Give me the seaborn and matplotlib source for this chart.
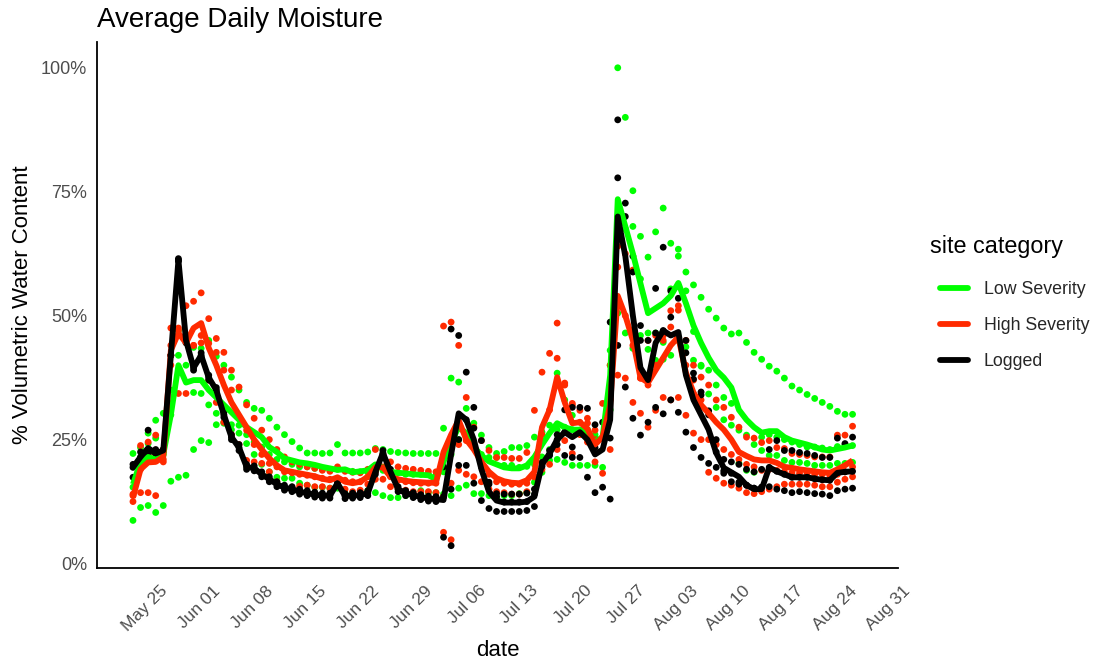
import numpy as np
import pandas as pd
import matplotlib
matplotlib.use("Agg")
import matplotlib.pyplot as plt
import matplotlib.dates as mdates
from matplotlib.lines import Line2D
from matplotlib.transforms import ScaledTranslation
import seaborn as sns

# ---------------- data ----------------
start_date = "2019-05-22"
n_days = 96
categories = ["Low Severity", "High Severity", "Logged"]
colors = ["#00ff00", "#ff2a00", "#000000"]
tick_dates = ["2019-05-25", "2019-06-01", "2019-06-08", "2019-06-15", "2019-06-22",
              "2019-06-29", "2019-07-06", "2019-07-13", "2019-07-20", "2019-07-27",
              "2019-08-03", "2019-08-10", "2019-08-17", "2019-08-24", "2019-08-31"]
y_ticks = [0, 25, 50, 75, 100]
y_tick_labels = ["0%", "25%", "50%", "75%", "100%"]

# daily mean lines
low_line = [16, 20.5, 21.5, 21, 22, 30, 40, 36.5, 37, 37,
            35, 33.5, 32, 30.5, 29, 27.5, 26.5, 25.5, 23.5, 22.5,
            21.2, 20.8, 20.4, 20.2, 19.9, 19.5, 19.2, 18.9, 19, 18.4,
            18.6, 18.8, 20, 19.4, 18.5, 18.3, 18.2, 18, 17.9, 17.8,
            17, 20.5, 24.5, 27.5, 26.3, 23.5, 21.8, 20.6, 20, 19.4,
            19.2, 19.2, 19.8, 21.5, 24, 26.3, 28.3, 27.5, 27, 27,
            26.5, 24.5, 25.5, 38, 73.5, 68, 62.5, 56.5, 50.5, 51.5,
            52.5, 54, 56.6, 52.5, 48, 44.5, 41.5, 39, 37.5, 35.5,
            31, 29, 27.5, 26.4, 26.7, 26.7, 25.5, 24.8, 24.4, 24,
            23.5, 23, 22.8, 23.1, 23.4, 23.8]
high_line = [13.3, 19, 20.4, 20.5, 21.5, 43, 46.5, 44.5, 47.5, 48.5,
             43.5, 40, 36, 32.5, 30, 27.5, 25, 23, 21.2, 19.8,
             18.8, 18.5, 18.2, 17.9, 17.6, 17.1, 16.8, 17.4, 16.5, 16.2,
             16.5, 17.5, 19.4, 19.4, 17.5, 17, 16.7, 16.5, 16.4, 16.3,
             16.3, 22.5, 26, 28.9, 25, 23, 20.5, 18.5, 17.2, 16.6,
             16.3, 16.2, 16.8, 18.5, 27.5, 31, 37.6, 32.5, 28.3, 28.5,
             27.2, 24, 25.5, 32, 54, 50, 45, 37.5, 36.5, 39,
             41.5, 44, 45.7, 38.5, 34.5, 32, 30.3, 28.5, 27, 25,
             22.5, 21.7, 21, 20.8, 20.8, 20.3, 19.5, 19.3, 19, 18.8,
             18.6, 18.4, 18.3, 19, 19.8, 20.8]
logged_line = [19.4, 21.5, 23.3, 22.2, 22.8, 42, 61.2, 45, 39.5, 42,
               37.5, 35, 30, 25.5, 23.4, 19.5, 19.2, 18, 17, 16,
               15.3, 15, 14.5, 14.2, 13.9, 13.7, 13.7, 16.2, 13.6, 13.7,
               13.8, 14.2, 18.5, 22.3, 18.5, 15, 14.2, 13.8, 13.4, 13.1,
               13, 12.8, 22, 30.3, 29, 25, 19, 14.5, 12.7, 12.3,
               12.3, 12.3, 12.5, 13.5, 20, 22.2, 25, 26.5, 25.5, 26.5,
               25, 22, 23, 29, 70, 62, 50, 39.5, 37, 44.5,
               47, 46, 46.7, 38, 33, 30, 27, 22.3, 19.3, 18.4,
               17.5, 15.8, 15, 15, 19.4, 18.6, 18, 17.4, 17.4, 17.4,
               17.1, 16.9, 16.8, 18.3, 18.5, 18.6]

# individual site readings (points)
low_s1 = [22.2, 23.4, 26.3, 28.9, 30.3, 35, 47, 45, 43.6, 43.4,
          45, 41.8, 40, 37.6, 35, 32.5, 31.3, 30.9, 29.3, 27.5,
          26, 24.6, 23.3, 22.3, 22.3, 22.2, 22.3, 24, 22.3, 22.3,
          22.3, 22.5, 23.2, 23, 22.6, 22.4, 22.3, 22.2, 22.2, 22.2,
          22.2, 27.3, 37.4, 36.6, 31.3, 28.3, 25.9, 23.4, 22.2, 22.6,
          23.4, 23.4, 23.8, 25.5, 26.5, 27.9, 38.4, 33, 29.9, 26.9,
          27, 26, 25.3, 43, 100, 90, 75.2, 66, 61.8, 66.9,
          71.7, 64.6, 63.4, 58.8, 56.2, 53.7, 51.3, 49.5, 47.5, 46.3,
          46.5, 44.6, 42.6, 41.2, 39.8, 38.8, 37.4, 35.8, 35, 34.1,
          33.3, 32.5, 31.7, 30.7, 30.1, 30.1]
low_s2 = [15.4, 20, 24.2, 25.3, 22, 30, 42, 40, 34.5, 34.3,
          32, 30.3, 28.5, 28, 27.9, 26, 24.5, 23.5, 22, 21,
          20.5, 20, 19.5, 19.5, 19.2, 19, 18.8, 19, 18.8, 18.6,
          18.5, 18.5, 19, 18.8, 18.5, 18.3, 18, 18, 18, 18,
          17.8, 18.5, 22, 25, 26, 23.5, 22, 21.4, 21.4, 19.8,
          19.8, 19.4, 19.6, 20, 21.5, 23, 27, 27.5, 27, 26.9,
          26.5, 25.5, 25.3, 40, 70, 46.5, 43.4, 57.4, 46.5, 46.5,
          44.6, 42, 45, 43.7, 41, 40, 39, 36, 33.5, 32.3,
          26.9, 25.9, 24, 22.8, 21.8, 21.8, 20.8, 20.4, 20.4, 20.2,
          19.8, 19.8, 19.8, 20.2, 20.2, 20.4]
low_s3 = [8.7, 11.3, 11.7, 10.3, 11.7, 16.6, 17.4, 17.8, 23, 24.8,
          24.4, 28, 28.3, 27, 26.3, 24.2, 22, 20, 18.5, 17.4,
          17.2, 17.2, 16.2, 15.8, 15.4, 15.4, 15.2, 15.2, 14.1, 14.1,
          13.7, 14.7, 14.3, 13.7, 13.3, 13.3, 13.7, 13.7, 14.7, 14.3,
          14.3, 14, 13.7, 15.2, 15.8, 14.1, 14.1, 13.7, 13.3, 13.7,
          13.7, 14.1, 14.3, 16.4, 18.4, 20.8, 21, 20.4, 19.8, 19.8,
          19.8, 19.8, 19.4, 31, 50.5, 67.5, 68, 46, 43.2, 41,
          41.2, 55.4, 62, 55, 46.8, 39.8, 34.2, 31.5, 29, 27.9,
          20.2, 18.8, 18.4, 25.5, 26, 25.5, 25, 24.5, 24, 23.5,
          23.5, 23.3, 23, 23.6, 24, 23.8]
high_s1 = [14, 23.8, 24.5, 25.9, 23, 47.5, 47.5, 52, 52.9, 54.6,
           49.4, 45.4, 42.6, 39, 35.6, 32, 29.3, 26.9, 25, 23,
           21.5, 20.5, 20, 19.5, 19.2, 18.8, 18.6, 19.5, 18.6, 18.4,
           18.3, 19, 23, 22, 20.5, 19.5, 19.2, 19, 18.8, 18.6,
           18.5, 47.9, 48.7, 44, 33.5, 27.5, 24.8, 22.8, 21.4, 21.4,
           21.2, 21.2, 22.4, 30.9, 38.6, 42.4, 48.5, 36.4, 32.3, 30.9,
           29.3, 26.9, 32.3, 40, 59.8, 50, 59.2, 37.4, 36, 40,
           45, 47.7, 51.1, 45, 40, 37.6, 36, 33, 31.5, 29.5,
           27.5, 25.5, 25.3, 24.4, 24.8, 23.4, 23.2, 22.2, 22, 21.8,
           21.5, 21.5, 21.5, 25.9, 25.9, 27.7]
high_s2 = [13.7, 14.3, 14.3, 13.7, 21, 44, 34.3, 34.3, 44, 46,
           44.4, 42.6, 39, 35, 29.3, 26.9, 24, 22, 20.2, 19.5,
           18.5, 18.3, 18, 17.8, 17.5, 17.2, 17, 17, 16.8, 16.5,
           16.5, 17.5, 18.5, 19.5, 17.5, 16.8, 16.5, 16.3, 16.2, 16.2,
           16.2, 6.3, 4.8, 18.8, 24.8, 24, 20.8, 18, 16.5, 16.2,
           16, 16, 16.2, 17.5, 26, 31, 41.4, 36, 31.9, 28.5,
           28.3, 25, 25.5, 33, 38, 37.4, 32.5, 37.4, 27.5, 30.9,
           33.5, 33, 33.5, 29.9, 26.3, 25, 25, 24, 23, 22,
           21, 20, 19.5, 18.8, 19, 18.8, 18.5, 18.3, 18.2, 18.2,
           18, 18, 17.8, 18, 18.5, 19.5]
high_s3 = [12.5, 19, 22, 22, 20.5, 40, 47, 45, 44, 44.5,
           37, 32.5, 28.5, 26, 24, 20.8, 20.5, 20.2, 18.5, 16.5,
           15.4, 15.4, 15.6, 15.8, 15.5, 15.5, 15.2, 16, 15, 14.5,
           14.8, 16, 17, 17, 15.5, 15, 14.8, 14.5, 14.5, 14.5,
           14.3, 13.5, 16.2, 24, 18, 17.5, 16.5, 15, 14.5, 14.3,
           14, 14, 14.5, 17.5, 19, 20, 23, 24.8, 22.2, 26,
           24.5, 20.5, 18.2, 23, 64, 62.5, 44, 30.3, 45, 46,
           46, 51, 52, 40, 37, 33, 18.4, 17.2, 16.2, 15.8,
           15.2, 14.3, 14.1, 14.5, 15, 15.5, 16, 16, 16, 16,
           15.8, 15.5, 15.5, 16.4, 17, 17.5]
logged_s1 = [20, 22.5, 26.9, 23, 23, 42, 61.5, 45.5, 40, 42.5,
             38, 35.5, 30.5, 26, 24, 20, 19.7, 18.5, 17.5, 16.5,
             15.8, 15.5, 15, 14.7, 14.4, 14.2, 14.2, 16.7, 14.1, 14.2,
             14.3, 14.7, 19, 22.8, 19, 15.5, 14.7, 14.3, 13.9, 13.6,
             13.5, 13.5, 47.3, 46, 38.6, 31.5, 19.5, 16, 14.1, 14,
             14, 14, 14.2, 15, 20.4, 22.8, 26, 31, 31.5, 31.5,
             31.3, 28, 28.5, 48.7, 89.5, 72.7, 58.8, 48, 45, 55.5,
             63.8, 49.7, 53.5, 45, 38.4, 34, 30, 25, 21, 20.5,
             20, 19, 18.5, 19, 23, 24.8, 22.8, 22.8, 22.4, 22.2,
             21.8, 21.4, 21.4, 25.3, 24.2, 25.5]
logged_s2 = [19.4, 21.5, 22, 22.2, 22.8, 42, 61.2, 45, 39.5, 42,
             37.5, 35, 30, 25.5, 23.4, 19.5, 19.2, 18, 17, 16,
             15.3, 15, 14.5, 14.2, 13.9, 13.7, 13.7, 16.2, 13.6, 13.7,
             13.8, 14.2, 18.5, 22.3, 18.5, 15, 14.2, 13.8, 13.4, 13.1,
             13, 19.5, 15, 25, 29, 27.3, 24.8, 16.4, 13.5, 12.4,
             12.4, 12.4, 12.5, 14, 19.6, 21.8, 25, 26.5, 23.5, 26.6,
             26.3, 23.4, 25.2, 25.3, 77.8, 70, 62, 45, 37.5, 46.5,
             47, 55, 56, 42.5, 37.2, 34.6, 30.8, 22.5, 18.7, 18.2,
             16.4, 15.8, 15.2, 15.4, 19.4, 18.6, 18, 17.4, 17.4, 17.4,
             17.1, 16.9, 16.8, 18.3, 18.5, 18.6]
logged_s3 = [17.4, 20.5, 21, 21.4, 22.6, 42, 61, 44.5, 39, 41.5,
             37, 34.5, 29.5, 25, 22.8, 19, 18.7, 17.5, 16.5, 15.5,
             14.8, 14.5, 14, 13.7, 13.4, 13.2, 13.2, 15.7, 13.1, 13.2,
             13.3, 13.7, 18, 21.8, 18, 14.5, 13.7, 13.3, 12.9, 12.6,
             12.5, 5.3, 3.6, 19.8, 19.8, 16.2, 12.7, 11.1, 10.5, 10.5,
             10.5, 10.5, 10.7, 11.5, 20, 22, 24, 21.8, 21.4, 21.4,
             17.4, 14.3, 15.4, 13, 44, 35.6, 29.3, 25.9, 28.5, 31.5,
             30.2, 33, 30.5, 26.5, 23.4, 21.4, 20.2, 19.4, 18.2, 16.5,
             16, 15.8, 15.2, 15.4, 15.5, 15, 14.7, 14.3, 14.5, 14.3,
             14.1, 14, 13.7, 14.7, 15, 15.2]

# ---------------- frames ----------------
dates = pd.date_range(start_date, periods=n_days, freq="D")
line_map = {"Low Severity": low_line, "High Severity": high_line, "Logged": logged_line}
site_map = {"Low Severity": [low_s1, low_s2, low_s3],
            "High Severity": [high_s1, high_s2, high_s3],
            "Logged": [logged_s1, logged_s2, logged_s3]}

lines_df = pd.concat([pd.DataFrame({"date": dates, "moisture": line_map[c], "category": c})
                      for c in categories], ignore_index=True)
pts_df = pd.concat([pd.DataFrame({"date": dates, "moisture": s, "category": c})
                    for c in categories for s in site_map[c]], ignore_index=True)

# ---------------- plot ----------------
sns.set_theme(style="white")
plt.rcParams["font.family"] = ["Liberation Sans", "DejaVu Sans"]

fig = plt.figure(figsize=(10.97, 6.61), dpi=100)
ax = fig.add_axes([97 / 1097, 1 - 568 / 661, (898 - 97) / 1097, (568 - 42) / 661])

palette = dict(zip(categories, colors))
sns.scatterplot(data=pts_df, x="date", y="moisture", hue="category", hue_order=categories,
                palette=palette, s=24, linewidth=0, legend=False, ax=ax, zorder=2)
sns.lineplot(data=lines_df, x="date", y="moisture", hue="category", hue_order=categories,
             palette=palette, linewidth=4.2, legend=False, ax=ax, zorder=3,
             solid_joinstyle="round", solid_capstyle="butt")

x0 = mdates.date2num(dates[0])
x1 = mdates.date2num(dates[-1])
pad_x = (x1 - x0) * 0.05
ax.set_xlim(x0 - pad_x, x1 + pad_x)
ax.set_ylim(-0.9, 105.2)

ax.set_xticks(mdates.date2num(pd.to_datetime(tick_dates)))
ax.set_yticks(y_ticks)
ax.tick_params(axis="x", length=0, pad=8)
ax.tick_params(axis="y", length=0, pad=7)
ax.set_xticklabels([pd.Timestamp(d).strftime("%b %d") for d in tick_dates],
                   rotation=45, ha="right", va="top", rotation_mode="anchor",
                   fontsize=12.5, color="#4d4d4d")
ax.set_yticklabels(y_tick_labels, fontsize=13, color="#4d4d4d")

for side in ["top", "right"]:
    ax.spines[side].set_visible(False)
for side in ["left", "bottom"]:
    ax.spines[side].set_color("black")
    ax.spines[side].set_linewidth(1.3)
ax.grid(False)

ax.set_xlabel("date", fontsize=16, color="black", labelpad=4)
ax.set_ylabel("% Volumetric Water Content", fontsize=16, color="black", labelpad=6)
fig.text(97 / 1097, 1 - 27 / 661, "Average Daily Moisture", fontsize=20, color="black",
         ha="left", va="baseline")

fig.text(930 / 1097, 1 - 246 / 661, "site category", fontsize=16.8, color="black",
         ha="left", va="center")
handles = [Line2D([0], [0], color=c, lw=4.2) for c in colors]
leg = fig.legend(handles, categories, loc="upper left",
                 bbox_to_anchor=(924 / 1097, 1 - 265 / 661), frameon=False,
                 fontsize=12.8, handlelength=1.6, handletextpad=0.85,
                 labelspacing=1.07)

# nudge rotated date labels (right/down) to match the reference placement
shift = ScaledTranslation(4 / 100, -4 / 100, fig.dpi_scale_trans)
for tick in ax.xaxis.get_major_ticks():
    tick.label1.set_transform(tick.label1.get_transform() + shift)

fig.savefig("out.png", dpi=100)
